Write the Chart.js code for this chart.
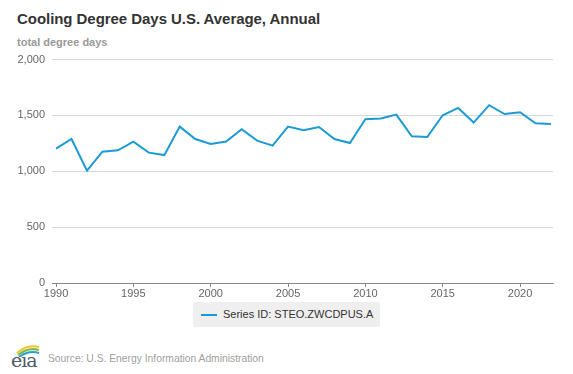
<!DOCTYPE html>
<html>
<head>
<meta charset="utf-8">
<script src="https://cdn.jsdelivr.net/npm/chart.js@4/dist/chart.umd.min.js"></script>
<style>
  html, body { margin: 0; padding: 0; background: #fff; }
  body { width: 573px; height: 374px; position: relative; overflow: hidden; font-family: "Liberation Sans", Arial, sans-serif; }
  #title { position: absolute; left: 17px; top: 10px; font-size: 15px; font-weight: bold; color: #333; white-space: nowrap; letter-spacing: -0.05px; }
  #subtitle { position: absolute; left: 17px; top: 36px; font-size: 11px; font-weight: bold; color: #999; white-space: nowrap; }
  #wrap { position: absolute; left: 0; top: 46px; width: 573px; height: 257px; }
  #legend { position: absolute; left: 193px; top: 302px; width: 187px; height: 25px; background: #efefef; border-radius: 2px; }
  #legend .swatch { position: absolute; left: 8px; top: 12px; width: 16px; height: 2px; background: #1b9ad6; }
  #legend .txt { position: absolute; left: 30px; top: 6px; font-size: 11px; color: #333; white-space: nowrap; }
  #logo { position: absolute; left: 8px; top: 343px; width: 36px; height: 30px; }
  #logo .eia { position: absolute; left: 3px; top: 6px; font-family: "DejaVu Serif", "Liberation Serif", serif; font-size: 19px; line-height: 22px; color: #4d5b6a; letter-spacing: -1px; }
  #source { position: absolute; left: 48px; top: 353px; font-size: 10.3px; color: #a0a0a0; white-space: nowrap; }
</style>
</head>
<body>
<div id="title">Cooling Degree Days U.S. Average, Annual</div>
<div id="subtitle">total degree days</div>
<div id="wrap"><canvas id="c" width="573" height="257"></canvas></div>
<div id="legend"><div class="swatch"></div><div class="txt">Series ID: STEO.ZWCDPUS.A</div></div>
<div id="logo">
  <div class="eia">eia</div>
  <svg width="36" height="14" style="position:absolute;left:0;top:0">
    <path d="M9 10 Q19 1 31 4" stroke="#f2c12e" stroke-width="2.2" fill="none"/>
    <path d="M10 12 Q20 4 31 7" stroke="#7dbb42" stroke-width="2.2" fill="none"/>
    <path d="M11 14 Q21 7 31 10" stroke="#2a9fd8" stroke-width="2" fill="none"/>
  </svg>
</div>
<div id="source">Source: U.S. Energy Information Administration</div>
<script>
const years = [1990,1991,1992,1993,1994,1995,1996,1997,1998,1999,2000,2001,2002,2003,2004,2005,2006,2007,2008,2009,2010,2011,2012,2013,2014,2015,2016,2017,2018,2019,2020,2021,2022];
const cdd = [1203,1289,1005,1176,1188,1266,1167,1145,1400,1289,1244,1266,1376,1275,1230,1400,1367,1397,1289,1253,1466,1472,1508,1313,1307,1502,1567,1436,1592,1513,1529,1430,1424];
const xTicks = [1990,1995,2000,2005,2010,2015,2020];
const yTicks = [0,500,1000,1500,2000];
const seriesName = "Series ID: STEO.ZWCDPUS.A";

const points = years.map((y, i) => ({x: y, y: cdd[i]}));

new Chart(document.getElementById('c'), {
  type: 'line',
  data: { datasets: [{ label: seriesName, data: points, borderColor: '#1b9ad6', borderWidth: 2, pointRadius: 0, tension: 0, fill: false }] },
  options: {
    responsive: false,
    animation: false,
    layout: { padding: { left: 0, right: 20, top: 9, bottom: 0 } },
    plugins: { legend: { display: false }, tooltip: { enabled: false } },
    scales: {
      x: {
        type: 'linear', min: 1989.74, max: 2022.13,
        afterBuildTicks: s => { s.ticks = xTicks.map(v => ({value: v})); },
        afterFit: s => { s.height = 20; },
        border: { display: true, color: '#888', width: 1 },
        grid: { drawOnChartArea: false, drawTicks: true, tickLength: 4, color: '#888' },
        ticks: { color: '#666', font: { family: 'Liberation Sans', size: 11 }, padding: 0, callback: v => String(v) }
      },
      y: {
        min: 0, max: 2000,
        afterBuildTicks: s => { s.ticks = yTicks.map(v => ({value: v})); },
        afterFit: s => { s.width = 52; },
        border: { display: false },
        grid: { color: '#d8d8d8', lineWidth: 1, drawTicks: false },
        ticks: { color: '#666', font: { family: 'Liberation Sans', size: 11 }, padding: 7, callback: v => v.toLocaleString('en-US') }
      }
    }
  }
});
</script>
</body>
</html>
